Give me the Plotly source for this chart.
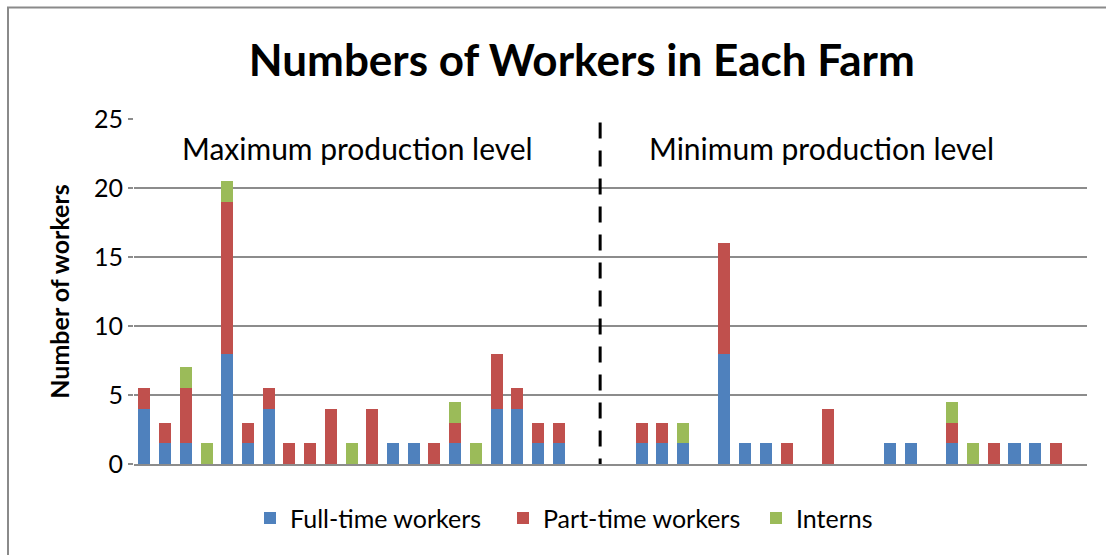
import plotly.graph_objects as go

# 46 farm slots: 0-21 maximum production level, 22 divider, 23-45 minimum production level
farms = list(range(46))
full_time = [4, 1.5, 1.5, 0, 8, 1.5, 4, 0, 0, 0, 0, 0, 1.5, 1.5, 0, 1.5, 0, 4, 4, 1.5, 1.5, 0,
             0, 0, 1.5, 1.5, 1.5, 0, 8, 1.5, 1.5, 0, 0, 0, 0, 0, 1.5, 1.5, 0, 1.5, 0, 0, 1.5, 1.5, 0, 0]
part_time = [1.5, 1.5, 4, 0, 11, 1.5, 1.5, 1.5, 1.5, 4, 0, 4, 0, 0, 1.5, 1.5, 0, 4, 1.5, 1.5, 1.5, 0,
             0, 0, 1.5, 1.5, 0, 0, 8, 0, 0, 1.5, 0, 4, 0, 0, 0, 0, 0, 1.5, 0, 1.5, 0, 0, 1.5, 0]
interns = [0, 0, 1.5, 1.5, 1.5, 0, 0, 0, 0, 0, 1.5, 0, 0, 0, 0, 1.5, 1.5, 0, 0, 0, 0, 0,
           0, 0, 0, 0, 1.5, 0, 0, 0, 0, 0, 0, 0, 0, 0, 0, 0, 0, 1.5, 1.5, 0, 0, 0, 0, 0]
series_names = ["Full-time workers", "Part-time workers", "Interns"]
series_colors = ["#4F81BD", "#C0504D", "#9BBB59"]
y_ticks = [0, 5, 10, 15, 20, 25]
divider_index = 22
section_labels = ["Maximum production level", "Minimum production level"]

FONT = "Lato"

fig = go.Figure()
for name, vals, col in zip(series_names, [full_time, part_time, interns], series_colors):
    fig.add_trace(go.Bar(x=farms, y=vals, name=name, marker=dict(color=col, line=dict(width=0))))

fig.update_layout(
    barmode="stack",
    bargap=0.42,
    width=1106, height=555,
    margin=dict(l=134, r=19, t=119, b=91),
    paper_bgcolor="white", plot_bgcolor="white",
    font=dict(family=FONT, color="#000000"),
    title=dict(text="<b>Numbers of Workers in Each Farm</b>", x=0.526, xanchor="center",
               y=0.89, yanchor="middle", font=dict(size=44, family=FONT, color="#000000")),
    showlegend=True,
    legend=dict(orientation="h", x=(250 - 134) / 953, xanchor="left", y=-0.157, yanchor="middle",
                font=dict(size=25, family=FONT, color="#000000"), traceorder="normal",
                entrywidth=208, entrywidthmode="pixels", itemclick=False),
    xaxis=dict(range=[-0.5, 45.5], showticklabels=False, showgrid=False, zeroline=False,
               showline=True, linecolor="#8C8C8C", linewidth=2, ticks=""),
    yaxis=dict(range=[0, 25], tickvals=y_ticks, showgrid=True, gridcolor="#8C8C8C", gridwidth=1.5,
               zeroline=False, ticks="outside", ticklen=5, tickcolor="#8C8C8C", tickwidth=1.5,
               tickfont=dict(size=25, family=FONT, color="#000000"),
               title=dict(text="<b>Number of workers</b>", font=dict(size=25, family=FONT, color="#000000"),
                          standoff=17)),
)

# divider dashed line
fig.add_shape(type="line", xref="x", yref="y", x0=divider_index, x1=divider_index, y0=24.75, y1=0,
              line=dict(color="black", width=3, dash="16px,12px"))

# section labels
fig.add_annotation(text=section_labels[0], xref="paper", yref="y", x=0.235, y=22.9,
                   xanchor="center", yanchor="middle",
                   showarrow=False, font=dict(size=30, family=FONT, color="#000000"))
fig.add_annotation(text=section_labels[1], xref="paper", yref="y", x=0.721, y=22.9,
                   xanchor="center", yanchor="middle",
                   showarrow=False, font=dict(size=30, family=FONT, color="#000000"))

# chart border
fig.add_shape(type="rect", xref="paper", yref="paper",
              x0=(8 - 134) / 953, x1=(1140 - 134) / 953,
              y0=(464 - 590) / 345, y1=(464 - 7.5) / 345,
              line=dict(color="#8A8A8A", width=2), fillcolor="rgba(0,0,0,0)", layer="below")

fig.write_html("out.html")
